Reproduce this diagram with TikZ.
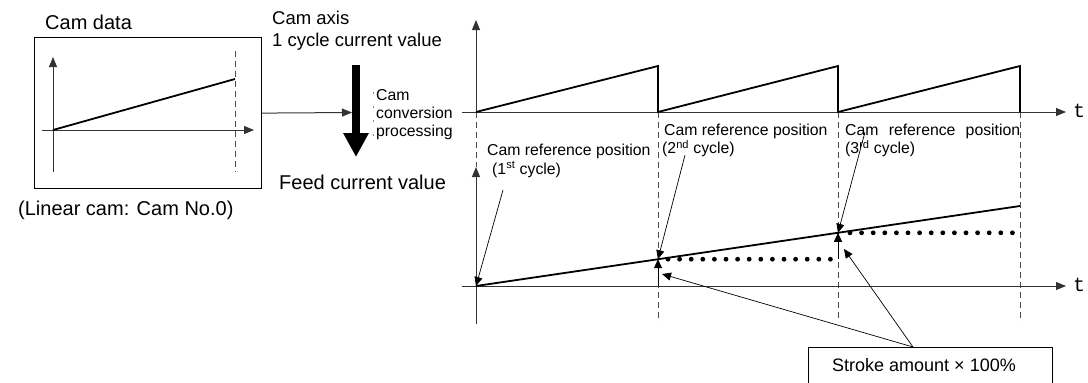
\documentclass[tikz,border=0pt]{standalone}
\usepackage{fontspec}
\setmainfont{Liberation Sans}
\newfontfamily\monofont{Liberation Mono}
\usetikzlibrary{arrows.meta}
\begin{document}
\begin{tikzpicture}[x=1pt,y=-1pt,
  axisline/.style={draw=black!80, line width=1pt, -{Triangle[length=10pt,width=8pt]}},
  guide/.style={draw=black!70, line width=0.9pt, dash pattern=on 6pt off 4pt},
  curve/.style={draw=black, line width=1.8pt},
  leader/.style={draw=black, line width=0.7pt, -{Triangle[length=9pt,width=8pt]}},
  dots/.style={draw=black, line width=4.8pt, line cap=round, dash pattern=on 0pt off 11.6pt},
  lbl/.style={font=\fontsize{15.8}{18}\selectfont, inner sep=0pt},
  big/.style={font=\fontsize{20}{22}\selectfont, inner sep=0pt},
  tlabel/.style={font=\monofont\fontsize{20}{22}\selectfont, inner sep=0pt}]
\useasboundingbox (0,0) rectangle (1088,383);
\clip (0,0) rectangle (1088,383);

% ---------- left: cam data ----------
\node[big, anchor=west] (camdata) at (45,22) {Cam data};
\node[draw, line width=1.2pt, minimum width=227pt, minimum height=151pt,
      anchor=north west, inner sep=0pt] (cambox) at (34,37) {};
\coordinate (c0) at (53,130);
\coordinate (cyb) at (53,172);
\coordinate (cyt) at (53,57);
\coordinate (cxl) at (42,130);
\coordinate (cxr) at (254,130);
\coordinate (cend) at (235,79);
\coordinate (cdt) at (235,51);
\coordinate (cdb) at (235,172);
\draw[guide] (cdt) -- (cdb);
\draw[axisline] (cyb) -- (cyt);
\draw[axisline] (cxl) -- (cxr);
\draw[curve] (c0) -- (cend);
\node[big, anchor=west] (lincam) at (18,210) {(Linear cam: Cam No.0)};

% ---------- middle: conversion ----------
\node[anchor=west, align=left, inner sep=0pt, font=\fontsize{18.5}{22}\selectfont] (camaxis) at (272,31)
  {Cam axis\\1 cycle current value};
\coordinate (thtop) at (356,65);
\coordinate (thtip) at (356,157);
\coordinate (thin) at (352,112.5);
\draw[line width=8pt, -{Triangle[length=24pt,width=24pt]}] (thtop) -- (thtip);
\draw[draw=black!80, line width=1pt, -{Triangle[length=10pt,width=8pt]}] (cambox.east) -- (thin);
\coordinate (dl1) at (373,92);
\coordinate (dl2) at (373,140);
\draw[draw=black!45, line width=0.5pt, dash pattern=on 2pt off 12pt] (dl1) -- (dl2);
\node[lbl, anchor=west, align=left] (conv) at (376,115)
  {Cam\\conversion\\processing};
\node[big, anchor=west] (feed) at (279,182) {Feed current value};

% ---------- top chart ----------
\coordinate (O1) at (476,112);
\coordinate (O1y) at (476,20);
\coordinate (O1xl) at (462,112);
\coordinate (O1xr) at (1066,112);
\coordinate (A1) at (658,66);
\coordinate (B1) at (658,112);
\coordinate (A2) at (838,66);
\coordinate (B2) at (838,112);
\coordinate (A3) at (1020,66);
\coordinate (B3) at (1020,112);
\coordinate (G0) at (476,167);
\coordinate (G1) at (658,322);
\coordinate (G2) at (838,322);
\coordinate (G3) at (1020,322);
\draw[guide] (O1) -- (G0);
\draw[guide] (B1) -- (G1);
\draw[guide] (B2) -- (G2);
\draw[guide] (B3) -- (G3);
\draw[axisline] (O1) -- (O1y);
\draw[axisline] (O1xl) -- (O1xr);
\node[tlabel, anchor=west] (t1) at (1073,111) {t};
\draw[curve, line join=miter] (O1) -- (A1) -- (B1) -- (A2) -- (B2) -- (A3) -- (B3);

% ---------- bottom chart ----------
\coordinate (O2) at (476,286);
\coordinate (O2yb) at (476,324);
\coordinate (O2yt) at (476,167);
\coordinate (O2xl) at (462,286);
\coordinate (O2xr) at (1066,286);
\coordinate (E2) at (1020,206);
\coordinate (P2) at (658,259.2);
\coordinate (P3) at (838,232.8);
\coordinate (Q2) at (658,286);
\coordinate (Q3) at (838,259.2);
\draw[axisline] (O2yb) -- (O2yt);
\draw[axisline] (O2xl) -- (O2xr);
\node[tlabel, anchor=west] (t2) at (1073,285) {t};
\draw[curve] (O2) -- (E2);
\coordinate (d1s) at (668,259.2);
\coordinate (d1e) at (832,259.2);
\coordinate (d2s) at (850,232.8);
\coordinate (d2e) at (1020,232.8);
\draw[dots] (d1s) -- (d1e);
\draw[dots] (d2s) -- (d2e);
\draw[leader, line width=1pt] (Q2) -- (P2);
\draw[leader, line width=1pt] (Q3) -- (P3);

% ---------- labels ----------
\node[lbl, anchor=base west] (l1a) at (487,155.5) {Cam reference position};
\node[lbl, anchor=base west] (l1b) at (492,174) {(1\textsuperscript{st} cycle)};
\node[lbl, anchor=base west] (l2a) at (664,135.7) {Cam reference position};
\node[lbl, anchor=base west] (l2b) at (662,153.7) {(2\textsuperscript{nd} cycle)};
\node[lbl, anchor=base west] (l3a) at (845,135.7) {\makebox[175pt][s]{Cam reference position}};
\node[lbl, anchor=base west] (l3b) at (845,153.7) {(3\textsuperscript{rd} cycle)};
\coordinate (f1) at (503,190);
\coordinate (f2) at (685,155);
\coordinate (f3) at (865,132);
\draw[leader] (f1) -- (O2);
\draw[leader] (f2) -- (P2);
\draw[leader] (f3) -- (P3);

% ---------- stroke amount ----------
\node[draw, line width=1pt, minimum width=244pt, minimum height=46pt,
      anchor=north west, inner sep=0pt] (sbox) at (808,347) {};
\node[font=\fontsize{18}{20}\selectfont, inner sep=0pt] (stext) at (924,365) {Stroke amount × 100\%};
\coordinate (sfrom) at (913,347);
\coordinate (st1) at (662,274);
\coordinate (st2) at (844,249);
\draw[leader] (sfrom) -- (st1);
\draw[leader] (sfrom) -- (st2);
\end{tikzpicture}
\end{document}
